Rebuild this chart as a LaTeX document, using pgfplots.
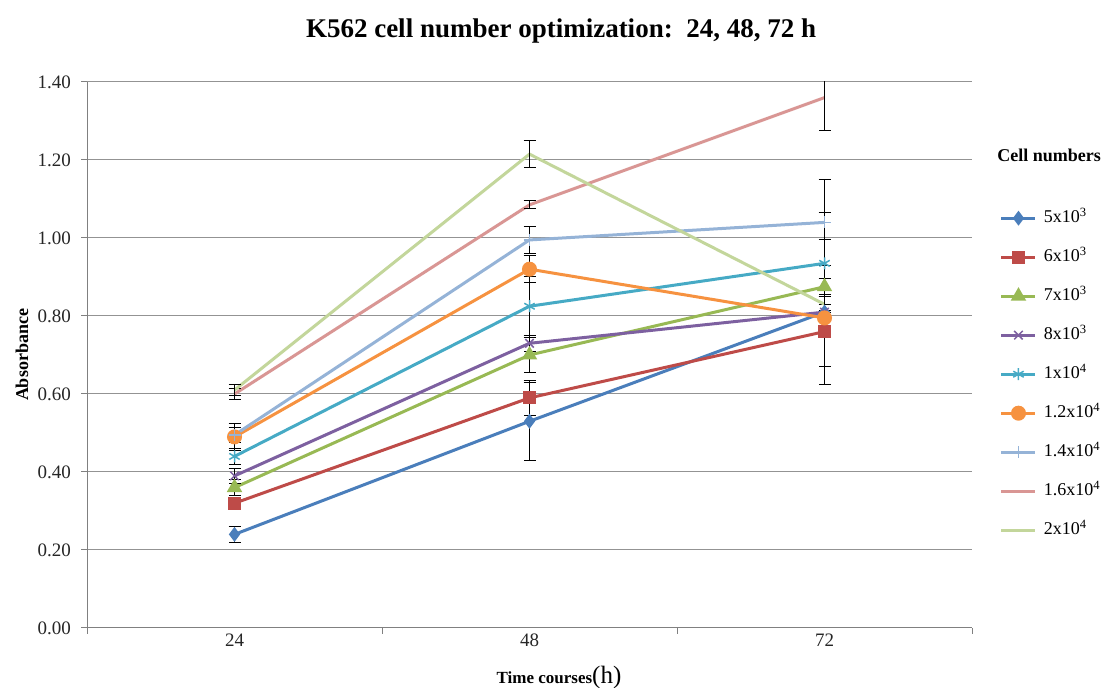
\documentclass[border=0pt]{standalone}
\usepackage{fontspec}
\setmainfont{Liberation Serif}
\usepackage{pgfplots}
\pgfplotsset{compat=1.18}
\usepackage{pgfplotstable}

\definecolor{cA}{HTML}{4A7EBB}
\definecolor{cB}{HTML}{BE4B48}
\definecolor{cC}{HTML}{98B954}
\definecolor{cD}{HTML}{7D60A0}
\definecolor{cE}{HTML}{46AAC5}
\definecolor{cF}{HTML}{F69240}
\definecolor{cG}{HTML}{95B3D7}
\definecolor{cH}{HTML}{D99694}
\definecolor{cI}{HTML}{C3D69B}

\pgfplotstableread{
x y e
0 0.24 0.02
1 0.53 0.10
2 0.81 0.185
}\tA
\pgfplotstableread{
x y e
0 0.32 0.015
1 0.59 0.045
2 0.76 0.09
}\tB
\pgfplotstableread{
x y e
0 0.36 0.02
1 0.70 0.045
2 0.875 0.02
}\tC
\pgfplotstableread{
x y e
0 0.39 0.02
1 0.73 0.02
2 0.81 0.02
}\tD
\pgfplotstableread{
x y e
0 0.44 0.02
1 0.825 0.075
2 0.935 0.13
}\tE
\pgfplotstableread{
x y e
0 0.49 0.035
1 0.92 0.035
2 0.795 0.02
}\tF
\pgfplotstableread{
x y e
0 0.495 0.02
1 0.995 0.035
2 1.04 0.11
}\tG
\pgfplotstableread{
x y e
0 0.60 0.015
1 1.085 0.01
2 1.36 0.085
}\tH
\pgfplotstableread{
x y e
0 0.61 0.015
1 1.215 0.035
2 0.83 0.02
}\tI

\begin{document}
\begin{tikzpicture}[x=1pt,y=1pt]
\useasboundingbox (0,0) rectangle (1111,688);
\begin{axis}[
  at={(87pt,60pt)}, anchor=south west,
  scale only axis, width=885pt, height=546pt,
  xmin=-0.5, xmax=2.5, ymin=0, ymax=1.4,
  axis x line*=bottom, axis y line*=left,
  axis line style={gray, line width=1pt},
  ytick={0,0.2,0.4,0.6,0.8,1.0,1.2,1.4},
  ymajorgrids, grid style={gray!85, line width=1pt},
  tick align=outside, major tick length=6pt,
  tick style={gray, line width=1pt},
  xtick={-0.5,0.5,1.5,2.5}, xticklabels={},
  extra x ticks={0,1,2}, extra x tick labels={24,48,72},
  extra x tick style={major tick length=0pt, xticklabel style={yshift=-2pt}},
  ticklabel style={font=\fontsize{19}{19}\selectfont},
  every tick label/.append style={text=black!85},
  yticklabel style={anchor=east, inner xsep=10pt, /pgf/number format/fixed, /pgf/number format/fixed zerofill, /pgf/number format/precision=2, /pgf/number format/assume math mode=true},
  legend image code/.code={\draw[mark repeat=2,mark phase=2,#1] plot coordinates {(0pt,0pt) (17pt,0pt) (34pt,0pt)};},
  legend style={draw=none, fill=none, at={(axis description cs:1.028,0.772)}, anchor=north west,
    font=\fontsize{18}{18}\selectfont, row sep=20pt,
    nodes={inner sep=1pt, text height=13pt, text depth=4pt},
    /tikz/every odd column/.append style={column sep=6pt}},
  legend cell align=left,
  error bars/y dir=both, error bars/y explicit,
  error bars/error bar style={black, line width=1pt},
  error bars/error mark options={black, rotate=90, mark size=6pt, line width=1pt},
  every axis plot/.append style={line width=3pt},
]
\addplot[cA, mark=diamond*, mark size=5pt, mark options={solid}] table[x=x,y=y,y error=e]{\tA};
\addlegendentry{5x10\textsuperscript{3}}
\addplot[cB, mark=square*, mark size=5pt] table[x=x,y=y,y error=e]{\tB};
\addlegendentry{6x10\textsuperscript{3}}
\addplot[cC, mark=triangle*, mark size=6pt] table[x=x,y=y,y error=e]{\tC};
\addlegendentry{7x10\textsuperscript{3}}
\addplot[cD, mark=x, mark size=6pt, mark options={line width=1.5pt}] table[x=x,y=y,y error=e]{\tD};
\addlegendentry{8x10\textsuperscript{3}}
\addplot[cE, mark=asterisk, mark size=6pt, mark options={line width=1.5pt}] table[x=x,y=y,y error=e]{\tE};
\addlegendentry{1x10\textsuperscript{4}}
\addplot[cF, mark=*, mark size=6pt] table[x=x,y=y,y error=e]{\tF};
\addlegendentry{1.2x10\textsuperscript{4}}
\addplot[cG, mark=+, mark size=6pt, mark options={line width=1.5pt}] table[x=x,y=y,y error=e]{\tG};
\addlegendentry{1.4x10\textsuperscript{4}}
\addplot[cH, mark=none] table[x=x,y=y,y error=e]{\tH};
\addlegendentry{1.6x10\textsuperscript{4}}
\addplot[cI, mark=none] table[x=x,y=y,y error=e]{\tI};
\addlegendentry{2x10\textsuperscript{4}}
\end{axis}
\node[font=\bfseries\fontsize{27}{27}\selectfont] at (561,657) {K562 cell number optimization:\ \ 24, 48, 72 h};
\node[font=\bfseries\fontsize{18}{18}\selectfont] at (1049,533) {Cell numbers};
\node[rotate=90, font=\bfseries\fontsize{18}{18}\selectfont] at (22,333) {Absorbance};
\node[anchor=base] at (559,5) {{\bfseries\fontsize{17}{17}\selectfont Time courses}{\fontsize{25}{25}\selectfont(h)}};
\end{tikzpicture}
\end{document}
